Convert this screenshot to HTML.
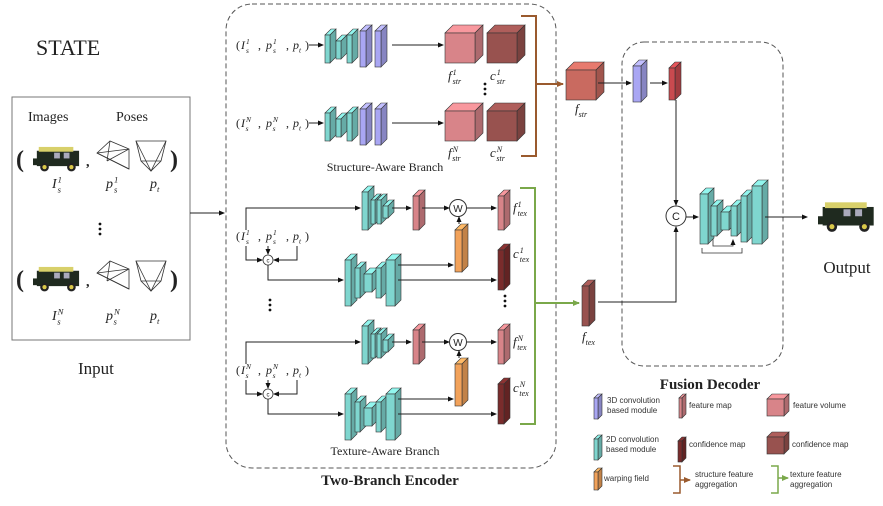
<!DOCTYPE html>
<html><head><meta charset="utf-8"><style>
html,body{margin:0;padding:0;background:#fff;width:883px;height:506px;overflow:hidden}
svg{display:block}
text{font-family:"Liberation Serif",serif;fill:#222}
.m{font-style:italic;font-size:12px}
.lg{font-family:"Liberation Sans",sans-serif;font-size:8px;fill:#333}
</style></head><body>
<svg id="s" width="883" height="506" viewBox="0 0 883 506" xmlns="http://www.w3.org/2000/svg">
<defs><marker id="ar" markerWidth="6" markerHeight="6" refX="5" refY="3" orient="auto" markerUnits="userSpaceOnUse"><path d="M0,0.5 L6,3 L0,5.5z" fill="#111"/></marker>
<marker id="arb" markerWidth="7" markerHeight="7" refX="6" refY="3.5" orient="auto" markerUnits="userSpaceOnUse"><path d="M0,0.5 L7,3.5 L0,6.5z" fill="#9a5a2e"/></marker>
<marker id="arg" markerWidth="7" markerHeight="7" refX="6" refY="3.5" orient="auto" markerUnits="userSpaceOnUse"><path d="M0,0.5 L7,3.5 L0,6.5z" fill="#7aa84a"/></marker></defs>
<text x="36" y="55" style="font-size:22px">STATE</text>
<rect x="12" y="97" width="178" height="243" fill="none" stroke="#777" stroke-width="1"/>
<text x="28" y="121" style="font-size:14px">Images</text>
<text x="116" y="121" style="font-size:14px">Poses</text>
<text x="78" y="374" style="font-size:17px">Input</text>
<text x="847" y="273" style="font-size:17px" text-anchor="middle">Output</text>
<rect x="226" y="4" width="330" height="464" rx="26" fill="none" stroke="#555" stroke-dasharray="5,3"/>
<rect x="622" y="42" width="161" height="324" rx="22" fill="none" stroke="#555" stroke-dasharray="5,3"/>
<text x="390" y="485" style="font-size:15px;font-weight:bold" text-anchor="middle">Two-Branch Encoder</text>
<text x="710" y="389" style="font-size:15px;font-weight:bold" text-anchor="middle">Fusion Decoder</text>
<text x="385" y="171" style="font-size:12px" text-anchor="middle">Structure-Aware Branch</text>
<text x="385" y="455" style="font-size:12px" text-anchor="middle">Texture-Aware Branch</text>
<g id="g"></g>
</svg>
<script>
var g=document.getElementById('g'),NS='http://www.w3.org/2000/svg';
function el(t,a,txt){var e=document.createElementNS(NS,t);for(var k in a)e.setAttribute(k,a[k]);if(txt!==undefined)e.textContent=txt;g.appendChild(e);return e;}
function line(pts,arrow,col,w){el('polyline',{points:pts,fill:'none',stroke:col||'#222','stroke-width':w||1,'marker-end':arrow?'url(#'+arrow+')':''});}
function shade(c,f){var n=parseInt(c.slice(1),16),r=n>>16,gg=(n>>8)&255,b=n&255;r=Math.min(255,Math.round(r*f));gg=Math.min(255,Math.round(gg*f));b=Math.min(255,Math.round(b*f));return 'rgb('+r+','+gg+','+b+')';}
function box(x,y,w,h,d,c){
 el('polygon',{points:[x,y,x+d,y-d,x+w+d,y-d,x+w,y].join(' '),fill:shade(c,1.15),stroke:'#333','stroke-width':0.6});
 el('polygon',{points:[x+w,y,x+w+d,y-d,x+w+d,y+h-d,x+w,y+h].join(' '),fill:shade(c,0.8),stroke:'#333','stroke-width':0.6});
 el('rect',{x:x,y:y,width:w,height:h,fill:c,stroke:'#333','stroke-width':0.6});}
function plate(x,y,w,h,c,d){d=d||6;box(x,y+d,w,h-d,d,c);}
var T='#7fd6cf',P='#a9a6f3',PK='#d88489',CF='#98524f',OR='#f2a25a',DR='#7a2c2c';
function mt(x,y,b,sub,sup,fs){fs=fs||12;var t=el('text',{x:x,y:y,'class':'m','style':'font-size:'+fs+'px'});
 var a=document.createElementNS(NS,'tspan');a.textContent=b;t.appendChild(a);
 var ss=fs*0.62;
 if(sup){var s=document.createElementNS(NS,'tspan');s.setAttribute('dx',1);s.setAttribute('dy',-fs*0.4);s.setAttribute('style','font-size:'+ss+'px');s.textContent=sup;t.appendChild(s);
  var s2=document.createElementNS(NS,'tspan');s2.setAttribute('dx',-ss*(sup=='N'?0.72:0.5)*sup.length);s2.setAttribute('dy',fs*0.72);s2.setAttribute('style','font-size:'+ss+'px');s2.textContent=sub;t.appendChild(s2);}
 else if(sub){var s3=document.createElementNS(NS,'tspan');s3.setAttribute('dy',fs*0.3);s3.setAttribute('style','font-size:'+ss+'px');s3.textContent=sub;t.appendChild(s3);}}
function tup(x,y,n){el('text',{x:x,y:y,style:'font-size:12px'},'(');mt(x+5,y,'I','s',n);el('text',{x:x+22,y:y,style:'font-size:12px'},',');mt(x+30,y,'p','s',n);el('text',{x:x+50,y:y,style:'font-size:12px'},',');mt(x+57,y,'p','t');el('text',{x:x+69,y:y,style:'font-size:12px'},')');}
function dots(x,y){for(var i=0;i<3;i++)el('circle',{cx:x,cy:y+i*5,r:1.4,fill:'#111'});}
function car(x,y,w){var s=w/50;var e=el('g',{transform:'translate('+x+','+y+') scale('+s+')'});
 e.innerHTML='<rect x="4" y="6" width="44" height="16" fill="#1f2a1f"/><rect x="6" y="2" width="36" height="5" fill="#d8d06a"/><rect x="22" y="8" width="6" height="6" fill="#aab"/><rect x="32" y="8" width="6" height="6" fill="#aab"/><rect x="0" y="14" width="8" height="7" fill="#1f2a1f"/><circle cx="12" cy="23" r="4.5" fill="#222"/><circle cx="12" cy="23" r="2.2" fill="#d9c84a"/><circle cx="40" cy="23" r="4.5" fill="#222"/><circle cx="40" cy="23" r="2.2" fill="#d9c84a"/>';}
function pose1(x,y){el('polygon',{points:[x,y+12,x+13,y,x+32,y+8,x+32,y+28].join(' '),fill:'none',stroke:'#333','stroke-width':0.8});line([x,y+12,x+32,y+28].join(' '),0,'#333',0.8);line([x+13,y,x+10,y+20].join(' '),0,'#333',0.8);line([x,y+12,x+32,y+8].join(' '),0,'#333',0.8);line([x+10,y+20,x+32,y+8].join(' '),0,'#333',0.8);}
function pose2(x,y){el('polygon',{points:[x,y,x+30,y,x+25,y+20,x+15,y+30,x+5,y+20].join(' '),fill:'none',stroke:'#333','stroke-width':0.8});line([x,y,x+15,y+30,x+30,y].join(' '),0,'#333',0.8);line([x+5,y+20,x+25,y+20].join(' '),0,'#333',0.8);}
[[145,188,'1'],[265,320,'N']].forEach(function(r){var y=r[0];
 el('text',{x:16,y:y+22,style:'font-size:24px;font-weight:bold'},'(');car(33,y,48);el('text',{x:86,y:y+21,style:'font-size:14px;font-weight:bold'},',');
 pose1(97,y-4);pose2(136,y-4);el('text',{x:170,y:y+22,style:'font-size:24px;font-weight:bold'},')');
 mt(52,r[1],'I','s',r[2],14);mt(106,r[1],'p','s',r[2],14);mt(150,r[1],'p','t',null,14);});
dots(100,224);
line('190,213 224,213','ar');
[[45,'1',80],[123,'N',157]].forEach(function(r){var y=r[0];
 tup(236,y+4,r[1]);line('309,'+y+' 323,'+y,'ar');
 plate(325,y-16,5,34,T);plate(336,y-10,5,24,T);plate(347,y-16,5,34,T);plate(360,y-20,6,42,P);plate(375,y-20,6,42,P);
 line('392,'+y+' 443,'+y,'ar');
 box(445,y-12,30,30,8,PK);box(487,y-12,30,30,8,CF);
 mt(448,r[2],'f','str',r[1],13);mt(490,r[2],'c','str',r[1],13);});
dots(485,84);
line('521,16 536,16 536,156 521,156',0,'#9a5a2e',2);line('536,84 563,84','arb','#9a5a2e',2);
box(566,70,30,30,8,'#c96a60');mt(575,113,'f','str',null,13);
function texrow(y,n){
 line('246,'+(y+22)+' 246,'+y+' 360,'+y,'ar');
 plate(362,y-22,6,44,T);plate(371,y-14,4,30,T);plate(377,y-14,4,30,T);plate(383,y-8,5,18,T);
 line('392,'+y+' 411,'+y,'ar');plate(413,y-18,6,40,PK);
 line('422,'+y+' 449,'+y,'ar');el('circle',{cx:458,cy:y,r:8.5,fill:'#fff',stroke:'#333'});el('text',{x:458,y:y+4,'text-anchor':'middle',style:'font-family:Liberation Sans;font-size:10px'},'W');
 line('467,'+y+' 496,'+y,'ar');plate(498,y-18,6,40,PK);mt(513,y+4,'f','tex',n,13);
 tup(236,y+32,n);var cy=y+52;
 el('circle',{cx:268,cy:cy,r:5,fill:'#fff',stroke:'#333','stroke-width':0.8});el('text',{x:268,y:cy+2.5,'text-anchor':'middle',style:'font-family:Liberation Sans;font-size:6px'},'c');
 line('246,'+(y+38)+' 246,'+cy+' 262,'+cy,'ar');line('268,'+(y+38)+' 268,'+(cy-6),'ar');line('297,'+(y+38)+' 297,'+cy+' 274,'+cy,'ar');
 var by=y+72;line('268,'+(cy+5)+' 268,'+by+' 343,'+by,'ar');
 plate(345,by-26,6,52,T);plate(355,by-18,5,36,T);plate(364,by-12,8,24,T);plate(376,by-18,5,36,T);plate(386,by-26,9,52,T);
 line('398,'+(by-15)+' 453,'+(by-15),'ar');line('398,'+by+' 496,'+by,'ar');
 plate(455,y+16,7,48,OR);line('459,'+(y+16)+' 459,'+(y+9),'ar');
 plate(498,by-36,6,46,DR);mt(513,by-22,'c','tex',n,13);}
texrow(208,'1');texrow(342,'N');
dots(270,300);dots(505,296);
line('520,188 535,188 535,424 520,424',0,'#7aa84a',2);line('535,303 579,303','arg','#7aa84a',2);
plate(582,280,7,46,CF);mt(582,341,'f','tex',null,13);
line('598,83 631,83','ar');plate(633,60,8,42,P);line('650,83 667,83','ar');plate(669,62,6,38,'#c94a4f');
line('676,100 676,205','ar');line('598,302 676,302 676,227','ar');
el('circle',{cx:676,cy:216,r:10,fill:'#fff',stroke:'#333'});el('text',{x:676,y:220,'text-anchor':'middle',style:'font-family:Liberation Sans;font-size:11px'},'C');
line('686,217 698,217','ar');
line('702,248 702,253 742,253 742,248',0,'#333',0.8);line('713,238 713,246 733,246 733,240','ar','#333',0.8);
plate(700,188,8,56,T);plate(711,200,6,36,T);plate(721,206,8,24,T);plate(731,200,6,36,T);plate(741,190,6,52,T);plate(752,180,10,64,T);
line('765,217 807,217','ar');car(818,200,58);
plate(594,394,4,25,P,4);el('text',{x:607,y:403,'class':'lg'},'3D convolution');el('text',{x:607,y:413,'class':'lg'},'based module');
plate(594,435,4,25,T,4);el('text',{x:606,y:442,'class':'lg'},'2D convolution');el('text',{x:606,y:452,'class':'lg'},'based module');
plate(594,468,4,22,OR,4);el('text',{x:604,y:481,'class':'lg'},'warping field');
plate(679,394,3,24,PK,4);el('text',{x:689,y:408,'class':'lg'},'feature map');
plate(678,437,4,25,DR,4);el('text',{x:689,y:447,'class':'lg'},'confidence map');
box(767,399,17,17,5,PK);el('text',{x:793,y:408,'class':'lg'},'feature volume');
box(767,437,17,17,5,CF);el('text',{x:792,y:447,'class':'lg'},'confidence map');
line('673,466 680,466 680,493 673,493',0,'#9a5a2e',1.5);line('680,480 690,480','arb','#9a5a2e',1.5);el('text',{x:695,y:477,'class':'lg'},'structure feature');el('text',{x:695,y:487,'class':'lg'},'aggregation');
line('771,466 778,466 778,493 771,493',0,'#7aa84a',1.5);line('778,478 788,478','arg','#7aa84a',1.5);el('text',{x:790,y:477,'class':'lg'},'texture feature');el('text',{x:790,y:487,'class':'lg'},'aggregation');
</script>
</body></html>
